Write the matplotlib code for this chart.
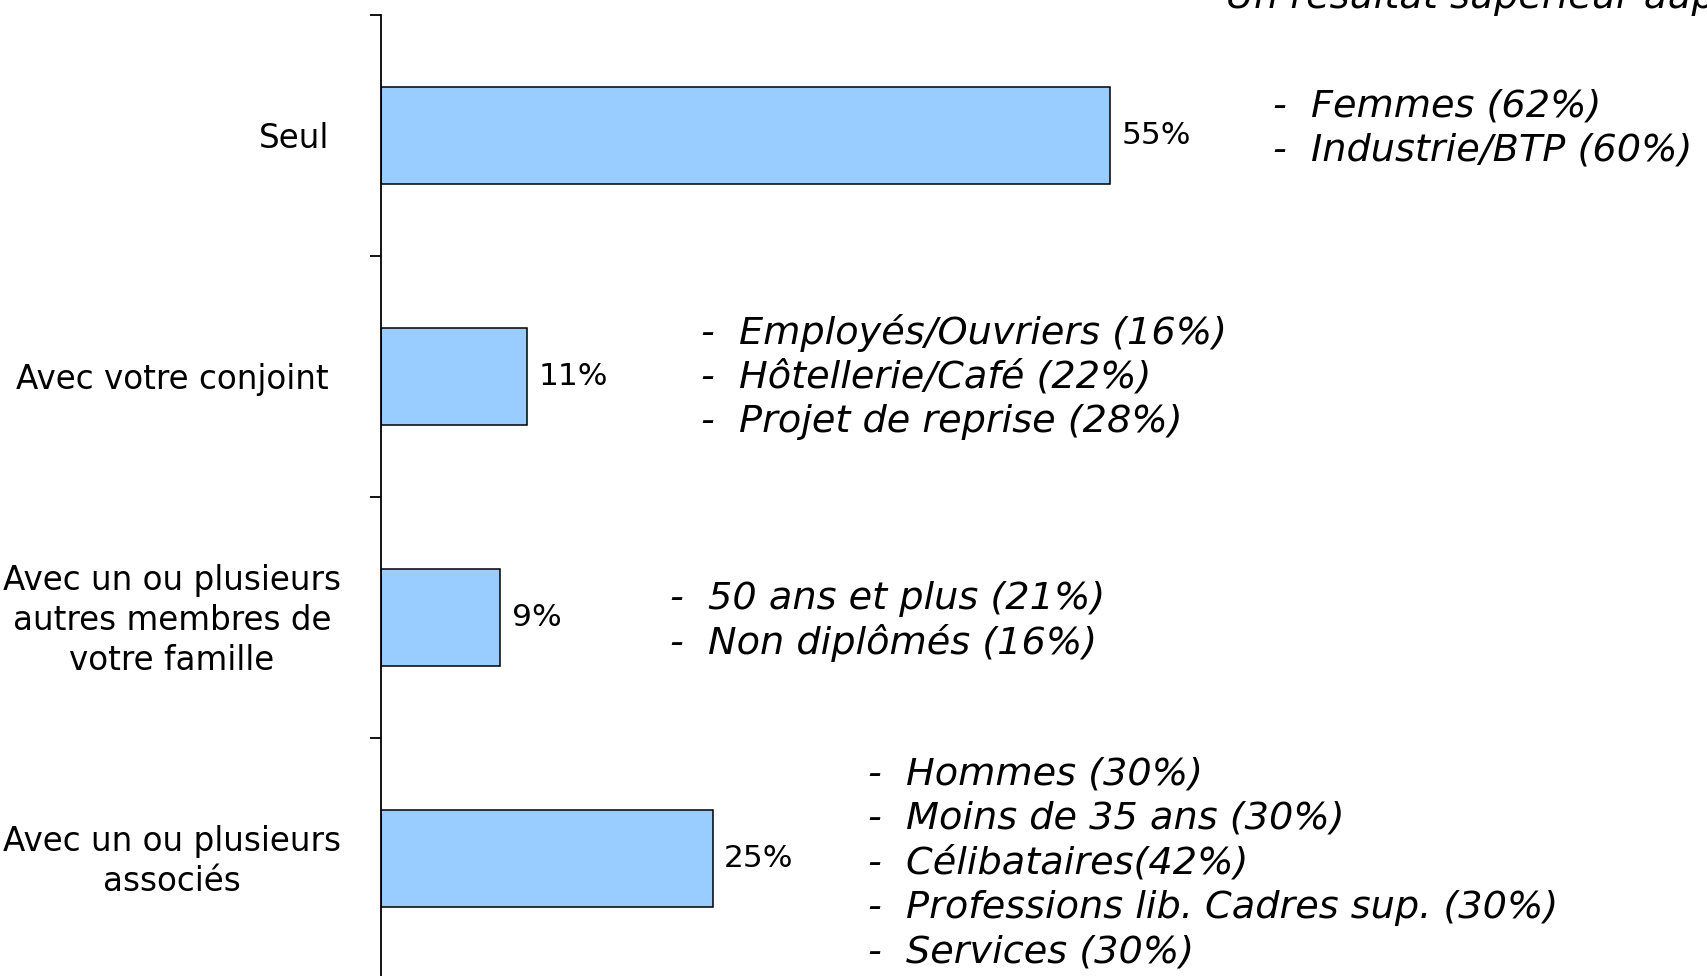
import matplotlib
matplotlib.use("Agg")
import matplotlib.pyplot as plt
import matplotlib.transforms as mtransforms
import numpy as np

# data
categories = ["Seul",
              "Avec votre conjoint",
              "Avec un ou plusieurs\nautres membres de\nvotre famille",
              "Avec un ou plusieurs\nassociés"]
values = [55, 11, 9, 25]
notes = [
    ["Femmes (62%)", "Industrie/BTP (60%)"],
    ["Employés/Ouvriers (16%)", "Hôtellerie/Café (22%)", "Projet de reprise (28%)"],
    ["50 ans et plus (21%)", "Non diplômés (16%)"],
    ["Hommes (30%)", "Moins de 35 ans (30%)", "Célibataires(42%)",
     "Professions lib. Cadres sup. (30%)", "Services (30%)"],
]
header = "Un résultat supérieur auprès des :"

# layout for the labels and side notes
label_x = [329, 172, 172, 172]          # pixels from the left
label_ha = ['right', 'center', 'center', 'center']
note_x = [67.3, 24.1, 21.8, 36.7]       # in % units
note_shift = [-0.03, 0.005, 0.015, 0.02]
note_step = 0.184

plt.rcParams['font.family'] = ['DejaVu Sans']

W, H = 1707, 976
fig = plt.figure(figsize=(W / 100, H / 100), dpi=100)
ax = fig.add_axes([381 / W, 1 - 979 / H, 1 - 381 / W, (979 - 15) / H])

y = np.arange(len(categories))
ax.barh(y, values, height=0.405, color='#99CCFF', edgecolor='black', linewidth=1.1)

ax.set_xlim(0, 100)
ax.set_ylim(len(categories) - 0.5, -0.5)

for sp in ['top', 'right', 'bottom']:
    ax.spines[sp].set_visible(False)
ax.spines['left'].set_linewidth(1.3)
ax.xaxis.set_visible(False)

ax.set_yticks(y)
ax.set_yticklabels([])
ax.tick_params(axis='y', which='major', length=0)
ax.set_yticks(np.arange(len(categories) + 1) - 0.5, minor=True)
ax.tick_params(axis='y', which='minor', length=8, width=1.3, direction='out')

# category labels, placed in figure pixels horizontally
trans = mtransforms.blended_transform_factory(fig.transFigure, ax.transData)
for i, lab in enumerate(categories):
    ax.text(label_x[i] / W, i + 0.012, lab, transform=trans, ha=label_ha[i],
            va='center', multialignment='center', fontsize=23.5, linespacing=1.28)

for i, v in enumerate(values):
    ax.text(v + 0.85, i, "%d%%" % v, va='center', ha='left', fontsize=22.5)

for i, lines in enumerate(notes):
    n = len(lines)
    for k, line in enumerate(lines):
        yy = i + note_shift[i] + (k - (n - 1) / 2.0) * note_step
        ax.text(note_x[i], yy, "-  " + line, va='center', ha='left',
                fontsize=27.5, style='italic')

fig.text(1226 / W, 1 - 7.5 / H, header, ha='left', va='baseline',
         fontsize=27.5, style='italic')

fig.savefig("out.png", dpi=100)
